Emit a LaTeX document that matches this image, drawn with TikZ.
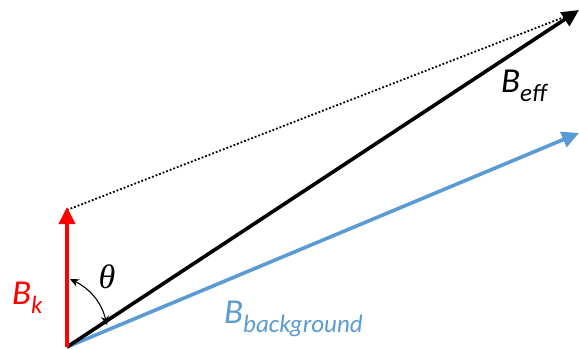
\documentclass[tikz,border=0pt]{standalone}
\usepackage{fontspec}
\setmainfont{Carlito}
\newfontfamily\thfont{Liberation Serif}
\usetikzlibrary{arrows.meta}
\definecolor{bgblue}{RGB}{91,155,213}
\tikzset{
  vec/.style={line width=3.6pt, -{Triangle[length=17pt,width=16pt]}},
  lbl/.style={font=\fontsize{35}{40}\selectfont\itshape, inner sep=0pt, anchor=base west},
}
\newcommand{\subtxt}[1]{\raisebox{-0.28em}{\fontsize{25}{28}\selectfont #1}}
\begin{document}
\begin{tikzpicture}[x=1pt,y=-1pt]
\useasboundingbox (0,0) rectangle (579,349);
\coordinate (O) at (67,347);
\coordinate (K) at (67,207);
\coordinate (E) at (579,10);
\coordinate (G) at (579,133);
\coordinate (D1) at (67,210);
\coordinate (D2) at (572,14);
\draw[line width=1.8pt, dotted] (D1) -- (D2);
\draw[vec, bgblue] (O) -- (G);
\draw[vec, black] (O) -- (E);
\draw[vec, red] (O) -- (K);
\coordinate (A1) at (70,279);
\coordinate (A2) at (107,325);
\draw[line width=1.1pt, {Stealth[length=9pt,width=8pt]}-{Stealth[length=9pt,width=8pt]}] (A1) to[bend left=25] (A2);
\node[inner sep=0pt, anchor=base, font=\fontsize{34}{38}\selectfont\thfont\itshape] (th) at (107,288) {θ};
\node[lbl, text=red] (bk) at (12,304) {B\subtxt{k}};
\node[lbl, text=black] (be) at (501,92) {B\subtxt{eff}};
\node[lbl, text=bgblue] (bb) at (224,323) {B\subtxt{background}};
\end{tikzpicture}
\end{document}
